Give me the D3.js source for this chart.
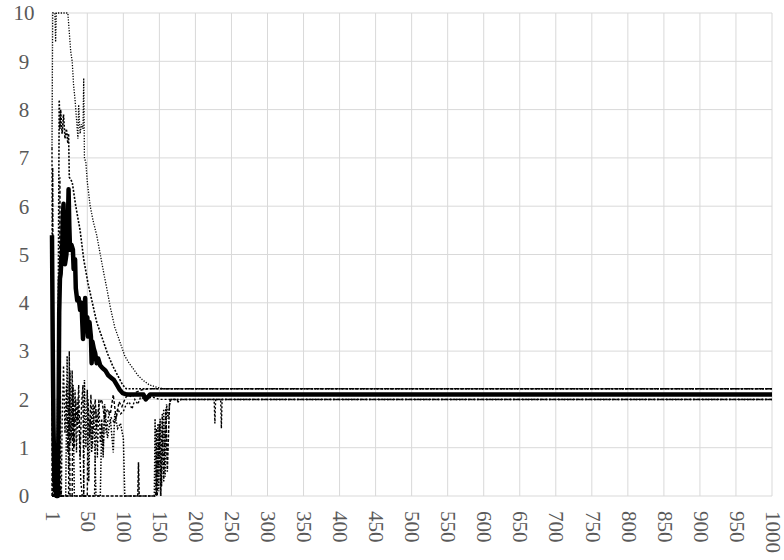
<!DOCTYPE html>
<html>
<head>
<meta charset="utf-8">
<script src="https://cdn.jsdelivr.net/npm/d3@7"></script>
<style>
  body { margin: 0; background: #fff; }
</style>
</head>
<body>
<div id="chart"></div>
<script>
// --- data: [iteration, value] ---
const xTicks = [1, 50, 100, 150, 200, 250, 300, 350, 400, 450, 500, 550, 600, 650, 700, 750, 800, 850, 900, 950, 1000];
const yTicks = [0, 1, 2, 3, 4, 5, 6, 7, 8, 9, 10];

const mainSeries = [[1,5.4],[2,3.2],[3,1.5],[4,0.6],[5,0.2],[7,0],[9,0],[10,1.5],[11,3.8],[12,4.5],[13,4.6],[14,4.9],[15,5.0],[16,5.8],[17,6.05],[18,5.2],[19,4.8],[20,4.9],[21,5.0],[23,5.6],[24,6.35],[25,5.6],[26,5.1],[28,5.2],[30,5.1],[31,4.7],[33,4.9],[34,4.3],[36,4.05],[38,4.1],[40,3.85],[42,4.0],[43,3.6],[44,3.25],[46,3.7],[47,4.1],[48,3.5],[50,3.7],[51,3.3],[53,3.6],[55,3.3],[56,2.75],[57,3.2],[59,3.05],[61,2.95],[63,2.75],[65,2.85],[68,2.7],[71,2.65],[75,2.6],[79,2.5],[83,2.45],[87,2.4],[91,2.3],[95,2.2],[99,2.13],[105,2.1],[128,2.1],[131,2.0],[134,2.05],[137,2.1],[1000,2.1]];

const upSeries = [[1,7.2],[2,10],[5,10],[6,9.4],[7,10],[23,10],[25,9.6],[27,9.2],[29,9.0],[31,8.5],[33,8.2],[35,7.8],[37,7.4],[38,8.1],[40,7.5],[42,7.7],[44,7.6],[45,8.65],[46,7.0],[48,6.9],[50,6.5],[54,6.0],[58,5.7],[63,5.4],[68,5.0],[73,4.6],[77,4.3],[82,3.9],[88,3.5],[95,3.2],[102,2.9],[108,2.75],[113,2.65],[120,2.5],[127,2.4],[136,2.3],[147,2.25],[155,2.22],[1000,2.22]];

const hiSeries = [[1,0],[9,0],[10,5.0],[11,8.2],[12,7.6],[13,8.0],[15,7.5],[17,7.9],[19,7.4],[21,7.6],[23,7.3],[24,7.5],[25,6.6],[29,6.5],[34,6.0],[40,5.5],[45,4.9],[51,4.4],[57,4.0],[63,3.6],[70,3.3],[78,2.95],[85,2.7],[92,2.5],[99,2.3],[104,2.22],[1000,2.22]];

const midSeries = [[1,0],[2,6.8],[3,0],[11,0],[12,6.6],[13,0],[24,0],[25,3.0],[26,0],[29,0],[30,2.3],[32,1.0],[34,2.0],[36,1.4],[38,2.3],[40,0.8],[42,1.9],[44,2.3],[45,0],[50,0],[51,2.0],[53,1.2],[55,2.1],[57,1.0],[59,1.6],[61,2.0],[63,1.4],[66,1.9],[70,2.0],[74,1.6],[78,1.8],[82,1.7],[86,2.1],[90,1.6],[94,1.95],[98,1.85],[102,2.0],[106,2.1],[112,2.05],[118,2.15],[126,2.2],[134,2.22],[1000,2.22]];

const low1Series = [[1,7.2],[2,0],[14,0],[15,1.5],[17,2.7],[19,1.3],[21,2.3],[23,0.9],[25,2.4],[27,1.1],[29,2.6],[31,1.0],[33,2.2],[35,0.9],[37,2.0],[39,1.2],[41,0.3],[43,0],[60,0],[62,1.8],[64,0.8],[66,2.0],[68,1.1],[70,1.6],[72,0.9],[74,1.8],[76,1.3],[80,1.7],[84,1.6],[88,1.5],[92,1.8],[96,1.7],[100,1.75],[104,1.9],[108,1.95],[112,1.8],[116,2.0],[120,1.9],[124,2.05],[130,2.0],[140,2.05],[150,2.0],[226,2.0],[227,1.5],[228,2.0],[235,2.0],[236,1.4],[237,2.0],[1000,2.0]];

const low2Series = [[1,0],[8,0],[9,2.2],[10,0],[20,0],[22,2.9],[24,0.5],[26,2.6],[28,1.2],[30,2.3],[32,0],[45,0],[46,2.4],[48,1.0],[50,2.2],[52,0.3],[54,1.6],[56,0.9],[58,1.9],[60,1.3],[62,0],[68,0],[70,1.5],[72,0.8],[74,1.9],[78,1.2],[82,1.6],[86,0.9],[88,1.7],[92,1.4],[96,1.5],[100,1.2],[102,0],[143,0],[144,1.6],[146,0],[148,1.5],[149,0.1],[151,1.6],[153,0.2],[156,1.8],[158,0.4],[160,1.9],[162,1.6],[165,2.0],[1000,2.0]];

const low3Series = [[1,0],[12,0],[13,0.2],[14,0],[120,0],[121,0.7],[122,0],[145,0],[146,1.4],[147,0],[150,1.5],[152,0],[154,1.7],[156,0.3],[159,1.8],[161,0.5],[164,1.9],[166,2.0],[174,2.0],[176,1.95],[180,2.0],[1000,2.0]];

// line styles, drawn back to front
const dottedLines = [
  { data: low3Series, dash: "3,1.5", w: 1.5 },
  { data: low2Series, dash: "1.5,1.5", w: 1.5 },
  { data: low1Series, dash: "2,2", w: 1.4 },
  { data: midSeries, dash: "3,2", w: 1.4 },
  { data: hiSeries, dash: "2,1.5", w: 1.6 },
  { data: upSeries, dash: "1.2,1.5", w: 1.3 }
];

const width = 784;
const height = 560;
const margin = { top: 13, right: 12, bottom: 64, left: 52 };
const font = "'Liberation Serif', 'Times New Roman', 'DejaVu Serif', serif";

const svg = d3.select("#chart").append("svg")
  .attr("width", width)
  .attr("height", height);

const x = d3.scaleLinear().domain([1, 1000]).range([margin.left, width - margin.right]);
const y = d3.scaleLinear().domain([0, 10]).range([height - margin.bottom, margin.top]);

// gridlines
svg.append("g").selectAll("line")
  .data(yTicks).enter().append("line")
  .attr("x1", x(1)).attr("x2", x(1000))
  .attr("y1", d => y(d)).attr("y2", d => y(d))
  .attr("stroke", "#d9d9d9").attr("stroke-width", 1);

svg.append("g").selectAll("line")
  .data(xTicks).enter().append("line")
  .attr("x1", d => x(d)).attr("x2", d => x(d))
  .attr("y1", y(0)).attr("y2", y(10))
  .attr("stroke", "#d9d9d9").attr("stroke-width", 1);

// y labels
svg.append("g").selectAll("text")
  .data(yTicks).enter().append("text")
  .attr("x", 24)
  .attr("y", d => y(d))
  .attr("dy", "0.35em")
  .attr("text-anchor", "middle")
  .attr("font-family", font)
  .attr("font-size", 21)
  .attr("fill", "#595959")
  .text(d => d);

// x labels, rotated to read downwards
svg.append("g").selectAll("text")
  .data(xTicks).enter().append("text")
  .attr("transform", d => `translate(${x(d)},${y(0) + 15}) rotate(90)`)
  .attr("dy", "0.3em")
  .attr("text-anchor", "start")
  .attr("font-family", font)
  .attr("font-size", 21)
  .attr("fill", "#595959")
  .text(d => d);

const line = d3.line().x(d => x(d[0])).y(d => y(d[1]));

dottedLines.forEach(s => {
  svg.append("path")
    .attr("d", line(s.data))
    .attr("fill", "none")
    .attr("stroke", "#000")
    .attr("stroke-width", s.w)
    .attr("stroke-dasharray", s.dash);
});

svg.append("path")
  .attr("d", line(mainSeries))
  .attr("fill", "none")
  .attr("stroke", "#000")
  .attr("stroke-width", 4.5)
  .attr("stroke-linejoin", "round");
</script>
</body>
</html>
